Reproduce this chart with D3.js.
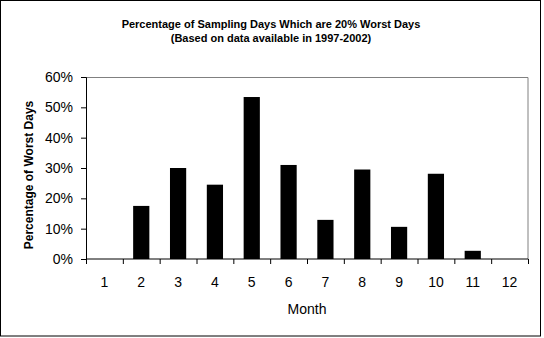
<!DOCTYPE html>
<html><head><meta charset="utf-8">
<script src="https://cdn.jsdelivr.net/npm/d3@7"></script>
<style>body{margin:0;background:#fff;} svg{display:block;}</style>
</head><body>
<script>
const months = ["1","2","3","4","5","6","7","8","9","10","11","12"];
const values = [0, 17.5, 30.0, 24.5, 53.4, 31.0, 12.9, 29.5, 10.6, 28.1, 2.7, 0];
const yTicks = [0, 10, 20, 30, 40, 50, 60];
const titleLines = ["Percentage of Sampling Days Which are 20% Worst Days", "(Based on data available in 1997-2002)"];

const W = 544, H = 338;
const m = {left: 86, right: 16, top: 77, bottom: 79};
const pw = W - m.left - m.right, ph = H - m.top - m.bottom;
const font = "Arial, 'Liberation Sans', sans-serif";

const svg = d3.select("body").append("svg").attr("width", W).attr("height", H);
svg.append("rect").attr("x", 0.5).attr("y", 0.5).attr("width", 540).attr("height", 335.5)
  .attr("fill", "#fff").attr("stroke", "#000").attr("stroke-width", 1);

const x = d3.scaleBand().domain(months).range([0, pw]).paddingInner(0.56).paddingOuter(0.28);
const xb = d3.scaleLinear().domain([0, months.length]).range([0, pw]);
const y = d3.scaleLinear().domain([0, 60]).range([ph, 0]);

const g = svg.append("g").attr("transform", `translate(${m.left},${m.top})`);

// plot area border (gray top/right)
g.append("path").attr("d", `M0,0.5H${pw}V${ph}`).attr("fill", "none").attr("stroke", "#808080");

g.selectAll("rect.bar").data(values).join("rect").attr("class", "bar")
  .attr("x", (d, i) => x(months[i])).attr("width", x.bandwidth())
  .attr("y", d => y(d)).attr("height", d => ph - y(d)).attr("fill", "#000");

// y axis
const ya = g.append("g").call(d3.axisLeft(y).tickValues(yTicks).tickFormat(d => d + "%").tickSize(5).tickPadding(8));
ya.selectAll("path,line").attr("stroke", "#000");
ya.selectAll("text").attr("font-family", font).attr("font-size", 14).attr("fill", "#000");

// x axis: ticks at category boundaries
const xa = g.append("g").attr("transform", `translate(0,${ph})`)
  .call(d3.axisBottom(xb).tickValues(d3.range(0, months.length + 1)).tickSize(5).tickFormat(""));
xa.selectAll("path,line").attr("stroke", "#000");
xa.select("path").attr("d", `M0.5,0H${pw}`);
g.append("g").selectAll("text").data(months).join("text")
  .attr("x", d => x(d) + x.bandwidth() / 2).attr("y", ph + 28)
  .attr("text-anchor", "middle").attr("font-family", font).attr("font-size", 14).text(d => d);

// titles
svg.append("g").selectAll("text").data(titleLines).join("text")
  .attr("x", 271).attr("y", (d, i) => 28 + i * 14).attr("text-anchor", "middle")
  .attr("font-family", font).attr("font-weight", "bold").attr("font-size", 11).text(d => d);

svg.append("text").attr("x", m.left + pw / 2).attr("y", 314).attr("text-anchor", "middle")
  .attr("font-family", font).attr("font-size", 14).text("Month");

svg.append("text").attr("transform", `translate(33,175) rotate(-90)`)
  .attr("text-anchor", "middle").attr("font-family", font).attr("font-weight", "bold")
  .attr("font-size", 12).text("Percentage of Worst Days");
</script>
</body></html>
